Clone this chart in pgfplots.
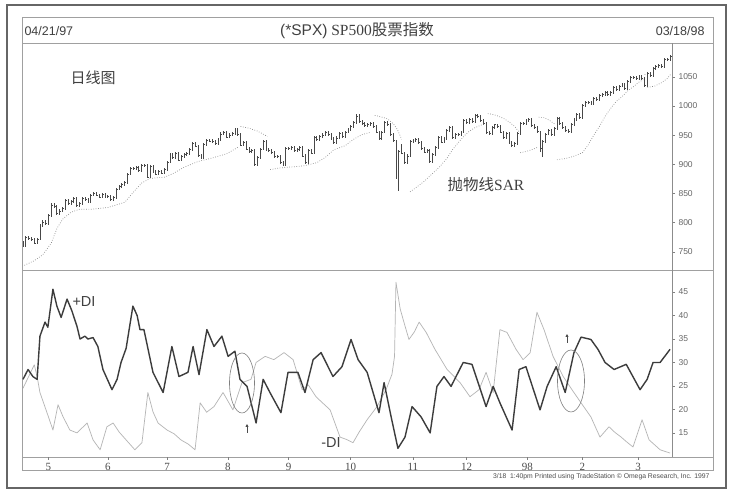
\documentclass[border=0pt]{standalone}
\usepackage{fontspec}
\setmainfont{Liberation Serif}
\setsansfont{Liberation Sans}
\newfontfamily\cjk{Noto Sans CJK SC}
\usepackage{pgfplots}
\pgfplotsset{compat=1.18}
\usepackage{pgfplotstable}
\usetikzlibrary{arrows.meta}
\definecolor{pricecol}{HTML}{484848}
\definecolor{sarcol}{HTML}{8C8C8C}
\definecolor{pdicol}{HTML}{3C3C3C}
\definecolor{mdicol}{HTML}{B4B4B4}
\definecolor{framecol}{HTML}{A0A0A0}
\definecolor{txtcol}{HTML}{404040}
\pgfdeclareplotmark{closetick}{\pgfpathmoveto{\pgfqpoint{0pt}{0pt}}\pgfpathlineto{\pgfqpoint{1.5pt}{0pt}}\pgfusepathqstroke}

\pgfplotstableread{
i h l c
0 768 758 760.4
1 777 758 774.6
2 777 771 773.6
3 776 769 771.2
4 774 763 765.4
5 774 763 772.0
6 797 770 794.1
7 804 792 801.3
8 804 796 798.5
9 815 796 812.9
10 833 810 830.3
11 833 825 827.8
12 830 813 815.6
13 823 813 820.3
14 827 818 824.8
15 840 822 837.7
16 840 831 833.1
17 839 831 836.0
18 844 834 841.9
19 844 827 829.8
20 836 827 833.3
21 844 831 841.7
22 844 837 839.4
23 842 833 835.7
24 850 833 847.0
25 852 845 849.7
26 852 845 847.2
27 850 842 844.1
28 851 842 848.3
29 851 843 845.5
30 848 843 845.4
31 848 838 840.1
32 846 838 843.4
33 860 841 858.0
34 865 856 862.9
35 868 860 865.3
36 872 863 869.6
37 886 867 883.5
38 896 881 893.3
39 896 891 893.9
40 897 891 894.4
41 897 887 889.1
42 900 887 898.0
43 901 896 898.7
44 901 876 878.6
45 899 876 896.3
46 899 886 889.0
47 891 881 883.7
48 890 881 887.3
49 890 883 885.1
50 893 883 891.0
51 906 889 904.0
52 919 902 916.9
53 919 910 912.2
54 921 910 918.8
55 921 905 907.5
56 916 905 913.8
57 919 911 916.7
58 921 914 918.4
59 928 916 925.8
60 939 923 936.6
61 939 929 931.6
62 934 913 915.3
63 918 910 912.9
64 936 910 934.0
65 944 932 941.6
66 944 938 940.3
67 943 936 938.8
68 941 934 936.5
69 945 934 942.3
70 955 940 952.3
71 957 950 954.3
72 957 945 947.1
73 953 945 950.3
74 955 948 952.4
75 963 950 960.3
76 963 949 951.2
77 954 931 933.5
78 940 931 937.0
79 940 924 926.5
80 929 920 922.0
81 927 920 924.8
82 927 898 900.8
83 915 898 912.5
84 928 910 926.0
85 942 924 939.4
86 942 923 925.1
87 928 921 923.5
88 926 918 920.2
89 923 911 913.0
90 916 911 913.7
91 916 901 903.0
92 906 897 899.5
93 930 897 927.6
94 930 925 927.9
95 932 925 930.0
96 932 921 923.9
97 928 921 925.9
98 932 923 929.1
99 932 912 914.6
100 917 900 902.9
101 926 900 923.9
102 926 917 919.8
103 948 917 945.6
104 948 940 943.0
105 950 940 947.3
106 953 945 950.5
107 958 948 955.4
108 958 949 951.9
109 954 942 944.5
110 947 935 937.9
111 948 935 945.2
112 956 943 953.3
113 956 945 947.3
114 958 945 955.4
115 963 953 960.5
116 967 958 965.0
117 975 963 972.7
118 986 970 983.1
119 986 971 973.8
120 976 968 970.6
121 973 964 967.0
122 971 964 968.1
123 973 966 970.3
124 973 963 965.7
125 968 953 955.3
126 958 942 944.2
127 958 942 955.6
128 975 953 972.3
129 975 966 968.5
130 971 948 950.7
131 953 939 941.6
132 942 875 877.0
133 924 855 921.9
134 935 917 919.2
135 922 901 903.7
136 917 901 914.6
137 941 912 939.0
138 943 936 940.8
139 945 938 942.8
140 945 935 938.0
141 940 925 927.5
142 930 919 921.1
143 926 919 923.8
144 926 902 906.0
145 919 903 916.7
146 931 914 928.4
147 949 926 946.2
148 949 936 938.2
149 947 936 944.6
150 961 942 959.0
151 965 956 963.1
152 966 944 946.7
153 953 944 950.8
154 954 948 951.6
155 958 949 955.4
156 977 953 974.8
157 977 969 971.7
158 979 969 976.8
159 979 971 973.1
160 986 971 983.8
161 986 980 982.4
162 985 973 975.8
163 978 967 969.8
164 972 952 954.9
165 957 951 954.0
166 966 951 963.4
167 970 961 968.0
168 970 963 965.5
169 968 953 955.3
170 958 944 946.8
171 956 944 953.7
172 956 935 938.0
173 940 930 932.7
174 939 930 936.5
175 956 934 953.4
176 973 951 970.8
177 973 968 970.4
178 978 968 975.0
179 980 972 977.1
180 980 964 966.6
181 969 961 964.0
182 966 953 956.1
183 958 921 927.7
184 942 912 939.2
185 954 937 952.1
186 960 950 957.9
187 960 948 950.7
188 964 948 961.5
189 981 959 978.6
190 981 968 970.8
191 973 960 963.0
192 966 955 957.6
193 960 954 957.0
194 971 954 969.0
195 980 966 977.5
196 988 975 985.5
197 988 978 980.3
198 1004 978 1001.3
199 1008 999 1006.0
200 1009 1003 1006.9
201 1009 1001 1003.5
202 1015 1001 1012.5
203 1015 1008 1010.7
204 1021 1008 1019.0
205 1022 1016 1020.1
206 1026 1018 1024.1
207 1026 1018 1020.1
208 1025 1018 1022.8
209 1034 1020 1032.1
210 1034 1026 1028.3
211 1036 1026 1034.2
212 1040 1032 1038.1
213 1040 1028 1030.6
214 1045 1028 1042.9
215 1051 1040 1048.7
216 1052 1046 1049.3
217 1052 1045 1047.7
218 1054 1045 1052.0
219 1054 1045 1047.3
220 1050 1032 1035.1
221 1058 1033 1055.7
222 1058 1050 1052.3
223 1067 1050 1064.3
224 1071 1062 1068.5
225 1072 1066 1069.9
226 1072 1066 1068.6
227 1082 1066 1079.3
228 1083 1077 1080.5
229 1088 1078 1085.5
}\price

\pgfplotsset{
  panel/.style={
    scale only axis, width=650pt,
    xmin=-0.35, xmax=229.7,
    axis y line*=right,
    y axis line style={draw=black!45, line width=0.5pt},
    ytick style={draw=black!50, line width=0.5pt},
    tick align=outside, major tick length=3pt,
    yticklabel style={font=\sffamily\fontsize{8.5}{10}\selectfont, text=black!60},
    /pgf/number format/assume math mode=true,
    /pgf/number format/1000 sep={},
    clip=true,
  },
  sar/.style={sarcol, line width=0.7pt, dash pattern=on 0.7pt off 1.7pt},
}

\begin{document}
\begin{tikzpicture}[x=1pt,y=1pt]
\useasboundingbox (0,0) rectangle (729,492);
\fill[white] (0,0) rectangle (729,492);
% outer border
\draw[line width=1.3pt, black!60] (7,4) rectangle (726,487);
% inner frames
\draw[framecol, line width=0.6pt] (22,22) rectangle (713,475);
\draw[framecol, line width=0.6pt] (22,449) -- (713,449);
\draw[framecol, line width=0.6pt] (22,222) -- (713,222);
\draw[framecol, line width=0.6pt] (22,35) -- (713,35);

% header
\node[anchor=west, text=txtcol, font=\sffamily\fontsize{12.5}{14}\selectfont] at (21,461) {04/21/97};
\node[anchor=center, text=txtcol, font=\fontsize{15.5}{17}\selectfont] at (357,461) {{\sffamily (*SPX)} SP500{\cjk 股票指数}};
\node[anchor=east, text=txtcol, font=\sffamily\fontsize{12.5}{14}\selectfont] at (708,461) {03/18/98};

% top panel: price bars and parabolic SAR
\begin{axis}[panel, at={(22pt,222pt)}, anchor=south west, height=227pt,
  ymin=719, ymax=1108, axis x line=none,
  ytick={750,800,850,900,950,1000,1050}]
\addplot[only marks, pricecol, mark=closetick, mark options={line width=0.6pt},
  error bars/.cd, y dir=both, y explicit, error mark=none,
  error bar style={pricecol, line width=0.8pt}]
  table[x=i, y=c, y error plus expr=\thisrow{h}-\thisrow{c}, y error minus expr=\thisrow{c}-\thisrow{l}] {\price};
\addplot[sar] coordinates {(0.5,727) (4,735) (7,745) (10,765) (12,790) (14,806) (17,818) (20,823) (24,823) (30,826) (36,835) (39,852) (42,868) (45,876) (50,878) (53,884) (57,895) (62,905) (67,911) (72,918) (76,929)};
\addplot[sar] coordinates {(77,965) (80,962) (83,957) (86.5,948)};
\addplot[sar] coordinates {(87.5,891) (91,894) (96,896) (100,898) (104,903) (107,912) (110,925) (114,932) (117,943) (120,951) (123,955)};
\addplot[sar] coordinates {(124.5,984) (127,981) (129,978) (131,970) (132.5,960) (134,943)};
\addplot[sar] coordinates {(137,853) (139,860) (141.5,869) (144,880) (147.5,896) (150,910) (152,925) (154,937) (156,948) (158,957) (160,963) (162,967) (163.5,970)};
\addplot[sar] coordinates {(164.5,987) (166,986) (168,983) (170,979) (172,973) (174,965) (175.5,956)};
\addplot[sar] coordinates {(176,920) (178,922) (180,925) (182,929)};
\addplot[sar] coordinates {(182.5,981) (184.5,980) (186.5,975) (188.5,968)};
\addplot[sar] coordinates {(189,908) (192,910) (195,914) (198,920) (200,933) (202,950) (204,965) (206,982) (208,996) (210,1008) (212,1016) (214,1026) (216,1033) (218,1041) (219.5,1045)};
\addplot[sar] coordinates {(220,1054) (220.8,1053)};
\addplot[sar] coordinates {(221,1032) (223.5,1034) (226,1040) (228,1047) (229.5,1056)};
\end{axis}

% bottom panel: +DI and -DI
\begin{axis}[panel, at={(22pt,35pt)}, anchor=south west, height=187pt,
  ymin=9.86, ymax=49.7, ytick={15,20,25,30,35,40,45},
  axis x line*=bottom, x axis line style={draw=none},
  xtick={9,30,51,72.5,94,116,138,157,178.5,198,217.7},
  xticklabels={5,6,7,8,9,10,11,12,98,2,3},
  xtick style={draw=black!50, line width=0.5pt},
  xticklabel style={font=\rmfamily\fontsize{11}{12}\selectfont, text=black!70}]
\addplot[mdicol, line width=0.7pt, line join=round] coordinates {
(0,24.5) (2,27) (4,29.5) (5,27) (6,23.6) (8.5,19.3) (10.6,15.6) (12.4,21) (14.2,18.4) (16.6,15.6) (19.1,15) (22.7,17.1) (24.8,13.5) (27.3,11.4) (29.7,16.3) (31.9,17.1) (34,15.2) (36.5,13.5) (39.6,11.4) (42.1,12.9) (44.2,23.6) (46,19.5) (47.8,17.1) (51,15.6) (53.5,14.8) (55.9,13.5) (58.5,12.6) (60.9,11.4) (62.7,21.4) (65,19.4) (67.6,20.6) (70.8,23.6) (74.3,19.9) (77.5,25.7) (80.7,26.4) (82.5,30) (85.7,31.3) (88.8,30.6) (92.4,32.1) (95.6,30.6) (98.8,24.2) (101,25.2) (103.7,22.7) (106,21.4) (108.7,19.9) (112.2,14.1) (114.5,13.6) (116.8,12.9) (119,15.2) (121.8,17.8) (125.3,20.6) (128.5,24.2) (130.6,27.5) (131.5,31.3) (132,47.1) (133.5,41.4) (135,38.2) (136.6,34.9) (138.5,36.5) (140.2,38.6) (142.7,36.4) (145.8,32.8) (150.1,28.5) (154.7,25.7) (158.2,22.7) (161.4,24.2) (163.9,27.9) (166.4,23.6) (168.8,37) (171.3,36.4) (174.5,32.8) (177,30.6) (179.5,32.1) (181.9,40.7) (184.4,37) (187.6,31.3) (191.2,27) (194.3,24.2) (197.5,21.4) (201,18.4) (204.2,14.1) (207.4,16.3) (209.5,15.1) (211.7,14.1) (213.8,13) (215.9,12) (219.1,17.8) (221.6,13.5) (225.5,11.4) (229,10.7)};
\addplot[pdicol, line width=1.4pt, line join=round] coordinates {
(0,26.4) (1.8,28.5) (3.5,27) (5,26.4) (6,35.6) (7.8,38.6) (8.8,37.5) (10.6,45.6) (12,42) (13.5,39.6) (15.6,43.5) (17.3,41) (19.1,37.7) (20.2,35) (21.9,35.6) (23,35) (24.8,35.3) (26.5,33.4) (28.3,28.5) (31.5,24.2) (33.3,26.4) (34.7,30) (36.5,33) (38.9,42) (40.4,40) (41.4,37) (42.8,37) (46,27.9) (49.6,23.6) (52.7,33.4) (55.2,27) (58.4,27.9) (60.2,33.4) (62.3,27.4) (65.1,37) (67.6,33.4) (70.4,35.6) (72.6,31.3) (75,32.4) (76.8,26.4) (79.3,24.9) (82.5,17.1) (85,26.4) (87.4,23.6) (91.3,19.3) (93.8,27.9) (97.3,27.9) (99.8,23.6) (102.7,30.6) (105.5,32.1) (109.7,27) (112.9,29.1) (116.1,34.9) (118.6,30.6) (121.8,27.9) (126,19.3) (127.8,25.7) (130.3,18.4) (132.7,11.7) (135.2,14.1) (137.7,20.6) (140.9,18.4) (144.1,15) (146.5,24.9) (149,27) (151.5,24.9) (155.8,30) (158.9,29.6) (163.9,20.6) (166.4,24.9) (168.8,21.4) (173.1,15.6) (175.6,28.5) (178,29.1) (183,19.9) (185.5,24.9) (188.7,29.1) (191.9,23.6) (195,32.1) (197.5,35.4) (201,34.9) (203.5,32.8) (206,30) (209.2,28.5) (213.5,29.6) (218.4,24.2) (220.9,26.4) (223,30) (225.5,30) (229,32.8)};
\end{axis}

% annotations
\node[text=txtcol, font=\cjk\fontsize{15}{17}\selectfont] at (93,414) {日线图};
\node[text=txtcol, font=\fontsize{15.5}{17}\selectfont] at (486,307) {{\cjk 抛物线}SAR};
\node[text=txtcol, font=\sffamily\fontsize{14.5}{16}\selectfont] at (84,190) {+DI};
\node[text=txtcol, font=\sffamily\fontsize{14.5}{16}\selectfont] at (331,49) {-DI};
\draw[black!50, line width=0.6pt] (242,109) ellipse [x radius=12.5, y radius=30];
\draw[black!50, line width=0.6pt] (571,111) ellipse [x radius=13.5, y radius=31];
\draw[black!70, line width=0.9pt, -{Triangle[length=3pt,width=3pt]}] (247,59) -- (247,68);
\draw[black!70, line width=0.9pt, -{Triangle[length=3pt,width=3pt]}] (567,149) -- (567,158);
\node[anchor=east, text=black!70, font=\sffamily\fontsize{6.8}{8}\selectfont] at (713,15) {3/18\ \ 1:40pm Printed using TradeStation \textcopyright\ Omega Research, Inc. 1997};
\end{tikzpicture}
\end{document}
